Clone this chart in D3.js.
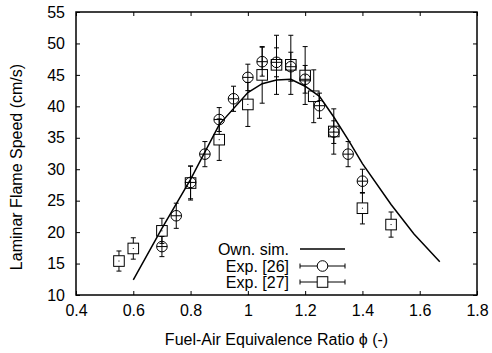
<!DOCTYPE html>
<html>
<head>
<meta charset="utf-8">
<script src="https://cdn.jsdelivr.net/npm/d3@7"></script>
<style>
  body { margin: 0; background: #fff; }
  svg text { font-family: "Liberation Sans", Arial, sans-serif; font-size: 16px; fill: #000; }
</style>
</head>
<body>
<div id="chart"></div>
<script>
// simulation (own)
const phiSim = [0.6, 0.7, 0.8, 0.9, 1.0, 1.05, 1.1, 1.15, 1.2, 1.25, 1.3, 1.35, 1.4, 1.5, 1.58, 1.67];
const slSim = [12.4, 20.6, 28.4, 37.1, 42.2, 43.6, 44.2, 44.3, 43.2, 41.6, 38.3, 34.7, 30.9, 24.4, 19.7, 15.3];

// Exp. [26] - circles
const phi26 = [0.7, 0.75, 0.8, 0.85, 0.9, 0.95, 1.0, 1.05, 1.1, 1.15, 1.2, 1.25, 1.3, 1.35, 1.4];
const sl26 = [17.7, 22.6, 27.9, 32.4, 37.9, 41.2, 44.6, 47.1, 47.0, 46.3, 44.3, 40.1, 35.9, 32.4, 28.1];
const err26 = [1.6, 2.0, 2.6, 2.0, 1.9, 2.0, 2.1, 2.3, 2.3, 2.3, 2.2, 2.0, 1.8, 2.0, 1.9];

// Exp. [27] - squares
const phi27 = [0.55, 0.6, 0.7, 0.8, 0.9, 1.0, 1.05, 1.1, 1.15, 1.2, 1.23, 1.3, 1.4, 1.5];
const sl27 = [15.4, 17.4, 20.2, 27.8, 34.7, 40.3, 45.0, 46.6, 46.6, 44.9, 41.6, 36.0, 23.8, 21.2];
const err27 = [1.6, 1.7, 2.0, 2.7, 3.3, 3.5, 4.5, 4.7, 4.7, 4.6, 4.2, 3.6, 2.5, 2.0];

const xTicks = [0.4, 0.6, 0.8, 1.0, 1.2, 1.4, 1.6, 1.8];
const yTicks = [10, 15, 20, 25, 30, 35, 40, 45, 50, 55];

const width = 492, height = 353;
const margin = { top: 12, right: 15, bottom: 58, left: 76 };
const tickLen = 4;
const capW = 2.5;

const svg = d3.select("#chart").append("svg")
  .attr("width", width)
  .attr("height", height);

const x = d3.scaleLinear().domain([0.4, 1.8]).range([margin.left, width - margin.right]);
const y = d3.scaleLinear().domain([10, 55]).range([height - margin.bottom, margin.top]);

// axes with inner ticks, mirrored on top/right
const fmt = d => d3.format("")(+d.toFixed(1));
svg.append("g")
  .attr("transform", `translate(0,${y(10)})`)
  .call(d3.axisBottom(x).tickValues(xTicks).tickSize(-tickLen).tickPadding(10).tickFormat(fmt))
  .call(g => g.select(".domain").remove());
svg.append("g")
  .attr("transform", `translate(0,${y(55)})`)
  .call(d3.axisTop(x).tickValues(xTicks).tickSize(-tickLen).tickFormat(""))
  .call(g => g.select(".domain").remove());
svg.append("g")
  .attr("transform", `translate(${x(0.4)},0)`)
  .call(d3.axisLeft(y).tickValues(yTicks).tickSize(-tickLen).tickPadding(11))
  .call(g => g.select(".domain").remove());
svg.append("g")
  .attr("transform", `translate(${x(1.8)},0)`)
  .call(d3.axisRight(y).tickValues(yTicks).tickSize(-tickLen).tickFormat(""))
  .call(g => g.select(".domain").remove());

svg.selectAll(".tick text").style("font-size", "16px").attr("fill", "#000");
svg.selectAll(".tick line").attr("stroke", "#000");

// frame
svg.append("rect")
  .attr("x", x(0.4)).attr("y", y(55))
  .attr("width", x(1.8) - x(0.4)).attr("height", y(10) - y(55))
  .attr("fill", "none").attr("stroke", "#000").attr("stroke-width", 1.5);

// simulation line
const line = d3.line().x(d => x(d[0])).y(d => y(d[1]));
svg.append("path")
  .datum(phiSim.map((p, i) => [p, slSim[i]]))
  .attr("d", line)
  .attr("fill", "none").attr("stroke", "#000").attr("stroke-width", 1.5);

// error bars
function errBars(phis, vals, errs, gap) {
  const g = svg.append("g").attr("stroke", "#000").attr("stroke-width", 1);
  phis.forEach((p, i) => {
    const cx = x(p), top = y(vals[i] + errs[i]), bot = y(vals[i] - errs[i]), cy = y(vals[i]);
    if (gap) {
      g.append("line").attr("x1", cx).attr("x2", cx).attr("y1", top).attr("y2", Math.max(top, cy - gap));
      g.append("line").attr("x1", cx).attr("x2", cx).attr("y1", Math.min(bot, cy + gap)).attr("y2", bot);
    } else {
      g.append("line").attr("x1", cx).attr("x2", cx).attr("y1", top).attr("y2", bot);
    }
    g.append("line").attr("x1", cx - capW).attr("x2", cx + capW).attr("y1", top).attr("y2", top);
    g.append("line").attr("x1", cx - capW).attr("x2", cx + capW).attr("y1", bot).attr("y2", bot);
  });
}
errBars(phi26, sl26, err26, 0);
errBars(phi27, sl27, err27, 5.3);

const r = 5.3, sq = 10.6;
function circleMark(g, cx, cy) {
  g.append("circle").attr("cx", cx).attr("cy", cy).attr("r", r)
    .attr("fill", "none").attr("stroke", "#000").attr("stroke-width", 1);
}
function squareMark(g, cx, cy) {
  g.append("rect").attr("x", cx - sq / 2).attr("y", cy - sq / 2).attr("width", sq).attr("height", sq)
    .attr("fill", "none").attr("stroke", "#000").attr("stroke-width", 1);
}

const gc = svg.append("g");
phi26.forEach((p, i) => {
  circleMark(gc, x(p), y(sl26[i]));
  gc.append("line").attr("x1", x(p) - r).attr("x2", x(p) + r)
    .attr("y1", y(sl26[i])).attr("y2", y(sl26[i])).attr("stroke", "#000");
});
const gs = svg.append("g");
phi27.forEach((p, i) => {
  squareMark(gs, x(p), y(sl27[i]));
  gs.append("rect").attr("x", x(p) - 0.5).attr("y", y(sl27[i]) - 0.5)
    .attr("width", 1).attr("height", 1).attr("fill", "#000");
});

// legend
const legTextX = 289, legX1 = 300, legX2 = 345, legMid = 322.5;
const legRows = [249, 266, 282];
const legLabels = ["Own. sim.", "Exp. [26]", "Exp. [27]"];
const lg = svg.append("g");
legLabels.forEach((t, i) => {
  lg.append("text").attr("x", legTextX).attr("y", legRows[i]).attr("dy", "0.35em")
    .attr("text-anchor", "end").text(t);
});
lg.append("line").attr("x1", legX1).attr("x2", legX2).attr("y1", legRows[0]).attr("y2", legRows[0])
  .attr("stroke", "#000").attr("stroke-width", 1.5);
[1, 2].forEach(i => {
  const yy = legRows[i];
  lg.append("line").attr("x1", legX1).attr("x2", legX2).attr("y1", yy).attr("y2", yy).attr("stroke", "#000");
  lg.append("line").attr("x1", legX1).attr("x2", legX1).attr("y1", yy - capW).attr("y2", yy + capW).attr("stroke", "#000");
  lg.append("line").attr("x1", legX2).attr("x2", legX2).attr("y1", yy - capW).attr("y2", yy + capW).attr("stroke", "#000");
  if (i === 1) circleMark(lg, legMid, yy); else squareMark(lg, legMid, yy);
});
lg.selectAll("circle, rect").attr("fill", "#fff");
// redraw the line behind? keep marks on top with white fill hiding the line
lg.selectAll("circle, rect").raise();

// axis titles
svg.append("text")
  .attr("x", (x(0.4) + x(1.8)) / 2).attr("y", 345)
  .attr("text-anchor", "middle")
  .text("Fuel-Air Equivalence Ratio \u03D5 (-)");
svg.append("text")
  .attr("transform", "translate(22,167) rotate(-90)")
  .attr("text-anchor", "middle")
  .text("Laminar Flame Speed (cm/s)");
</script>
</body>
</html>
